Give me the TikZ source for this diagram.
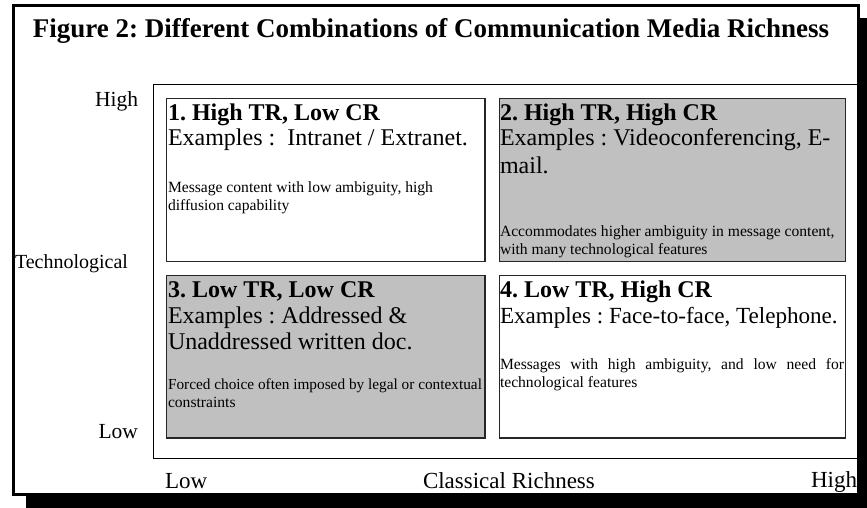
\documentclass[tikz,border=0pt]{standalone}
\usepackage{fontspec}
\setmainfont{Liberation Serif}
\definecolor{quadgray}{RGB}{192,192,192}
\begin{document}
\frenchspacing
\begin{tikzpicture}[x=1pt,y=-1pt,
  txt/.style={anchor=base west,inner sep=0pt,outer sep=0pt},
  big/.style={txt,font=\fontsize{24}{27}\selectfont},
  bigb/.style={txt,font=\fontsize{24}{27}\selectfont\bfseries},
  small/.style={txt,font=\fontsize{15.6}{18}\selectfont},
  axislbl/.style={inner sep=0pt,outer sep=0pt},
  quad/.style={draw=black!85,line width=1.2pt,inner sep=0pt,outer sep=0pt,anchor=north west},
]
\useasboundingbox (0,0) rectangle (867,508);
\clip (0,0) rectangle (867,508);

% drop shadow and outer frame
\fill[black] (26,18) rectangle (880,520);
\filldraw[fill=white,draw=black,line width=3pt] (13.5,5.5) rectangle (858.5,494.5);

% title
\node[axislbl,anchor=base,font=\fontsize{27}{30}\selectfont\bfseries] (title) at (431,38)
  {Figure 2: Different Combinations of Communication Media Richness};

% plot area
\draw[line width=1pt] (153.5,84.5) rectangle (858,458.5);

% quadrants
\node[quad,fill=white,minimum width=318.3pt,minimum height=163.4pt] (q1) at (166.7,98.3) {};
\node[quad,fill=quadgray,minimum width=346.4pt,minimum height=163.4pt] (q2) at (499.3,98.3) {};
\node[quad,fill=quadgray,minimum width=318.3pt,minimum height=162.3pt] (q3) at (166.7,275.7) {};
\node[quad,fill=white,minimum width=346.4pt,minimum height=162.3pt] (q4) at (499.3,275.7) {};

% quadrant 1
\node[bigb] (h1) at (168,121) {1. High TR, Low CR};
\node[big] (e1) at (168,146) {Examples :\ \ Intranet / Extranet.};
\node[small] (d1a) at (168,192) {Message content with low ambiguity, high};
\node[small] (d1b) at (168,210) {diffusion capability};

% quadrant 2
\node[bigb] (h2) at (500,121) {2. High TR, High CR};
\node[big] (e2a) at (500,146) {Examples : Videoconferencing, E-};
\node[big] (e2b) at (500,173) {mail.};
\node[small] (d2a) at (500,236.5) {Accommodates higher ambiguity in message content,};
\node[small] (d2b) at (500,254.5) {with many technological features};

% quadrant 3
\node[bigb] (h3) at (168,297) {3. Low TR, Low CR};
\node[big] (e3a) at (168,323) {Examples : Addressed \&};
\node[big] (e3b) at (168,349.5) {Unaddressed written doc.};
\node[small,font=\fontsize{15.3}{18}\selectfont] (d3a) at (168,389.5) {Forced choice often imposed by legal or contextual};
\node[small] (d3b) at (168,407) {constraints};

% quadrant 4
\node[bigb] (h4) at (500,297) {4. Low TR, High CR};
\node[big,font=\fontsize{23.1}{27}\selectfont] (e4) at (500,323) {Examples : Face-to-face, Telephone.};
\node[small] (d4a) at (500,369) {\makebox[344pt][s]{Messages with high ambiguity, and low need for}};
\node[small] (d4b) at (500,387) {technological features};

% axis labels
\node[axislbl,anchor=base east,font=\fontsize{21.5}{24}\selectfont] (yhi) at (138,107) {High};
\node[axislbl,anchor=base west,font=\fontsize{20}{24}\selectfont] (ylab) at (15,268) {Technological};
\node[axislbl,anchor=base east,font=\fontsize{21.5}{24}\selectfont] (ylo) at (138,438) {Low};
\node[axislbl,anchor=base west,font=\fontsize{23}{24}\selectfont] (xlo) at (165,488) {Low};
\node[axislbl,anchor=base west,font=\fontsize{23}{24}\selectfont] (xlab) at (423,488) {Classical Richness};
\node[axislbl,anchor=base east,font=\fontsize{23}{24}\selectfont] (xhi) at (857,487) {High};
\end{tikzpicture}
\end{document}
